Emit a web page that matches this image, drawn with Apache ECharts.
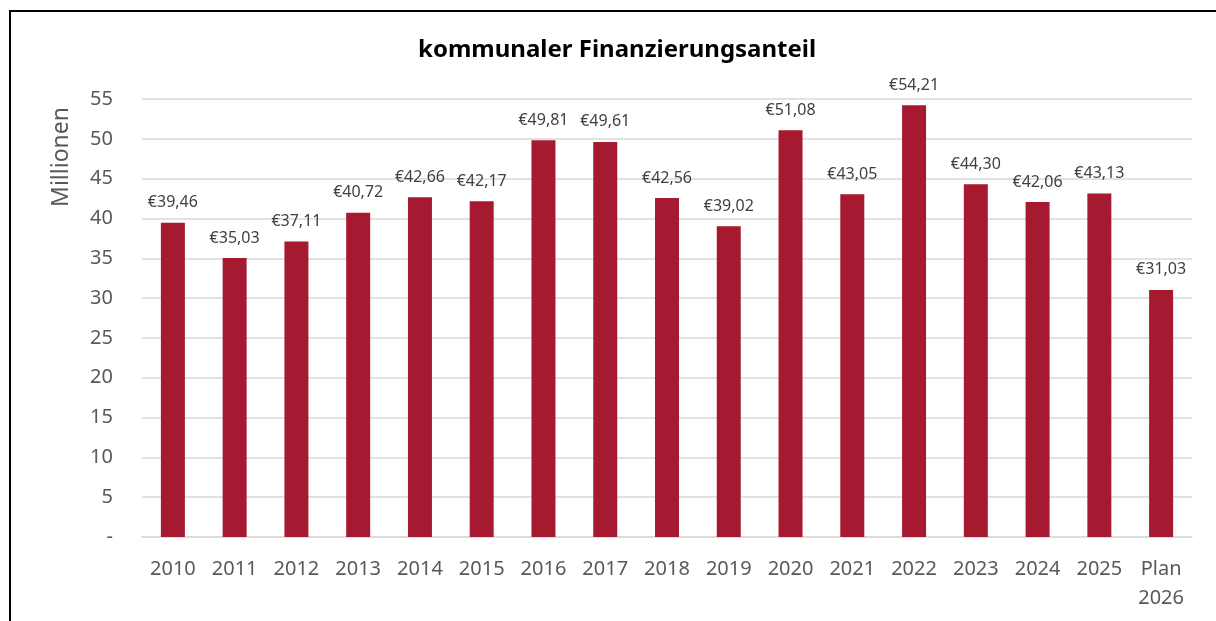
<!DOCTYPE html>
<html>
<head>
<meta charset="utf-8">
<script src="https://cdn.jsdelivr.net/npm/echarts@6/dist/echarts.min.js"></script>
<style>
html,body{margin:0;padding:0;background:#fff;}
#chart{width:1216px;height:621px;}
</style>
</head>
<body>
<div id="chart"></div>
<script>
// years and municipal share in million euro
var jahre = ['2010','2011','2012','2013','2014','2015','2016','2017','2018','2019','2020','2021','2022','2023','2024','2025','Plan\n2026'];
var werte = [39.46,35.03,37.11,40.72,42.66,42.17,49.81,49.61,42.56,39.02,51.08,43.05,54.21,44.30,42.06,43.13,31.03];
var titel = 'kommunaler Finanzierungsanteil';
var achsName = 'Millionen';

var fnt = '"Noto Sans", sans-serif';
var myChart = echarts.init(document.getElementById('chart'));
var option = {
	animation : false,
	textStyle : { fontFamily : fnt },
	title : {
		text : titel,
		left : 413,
		top : 33,
		textStyle : { fontSize : 24, fontWeight : 'bold', color : '#000', fontFamily : fnt }
	},
	graphic : [ {
		type : 'rect',
		shape : { x : 10, y : 11, width : 1230, height : 640 },
		style : { fill : 'none', stroke : '#000', lineWidth : 2 },
		silent : true
	}, {
		type : 'text',
		x : 61,
		y : 157,
		rotation : Math.PI / 2,
		style : {
			text : achsName,
			fill : '#595959',
			font : '23px "Noto Sans", sans-serif',
			textAlign : 'center',
			textVerticalAlign : 'middle'
		}
	} ],
	grid : {
		left : 142,
		right : 24,
		top : 99,
		bottom : 84
	},
	xAxis : {
		type : 'category',
		data : jahre,
		axisTick : { show : false },
		axisLine : { lineStyle : { color : '#d9d9d9', width : 1.5 } },
		axisLabel : {
			interval : 0,
			margin : 18,
			fontSize : 20,
			lineHeight : 29,
			color : '#595959'
		}
	},
	yAxis : {
		type : 'value',
		min : 0,
		max : 55,
		interval : 5,
		axisLine : { show : false },
		axisTick : { show : false },
		splitLine : { lineStyle : { color : '#d9d9d9', width : 1.5 } },
		axisLabel : {
			margin : 29,
			fontSize : 20,
			color : '#595959',
			formatter : function(v) {
				return v == 0 ? '-' : v;
			}
		}
	},
	series : [ {
		type : 'bar',
		data : werte,
		barWidth : 24,
		itemStyle : { color : '#A51A30' },
		label : {
			show : true,
			position : 'top',
			distance : 12,
			fontSize : 16,
			color : '#404040',
			formatter : function(p) {
				return '€' + p.value.toFixed(2).replace('.', ',');
			}
		}
	} ]
};
myChart.setOption(option);
</script>
</body>
</html>
